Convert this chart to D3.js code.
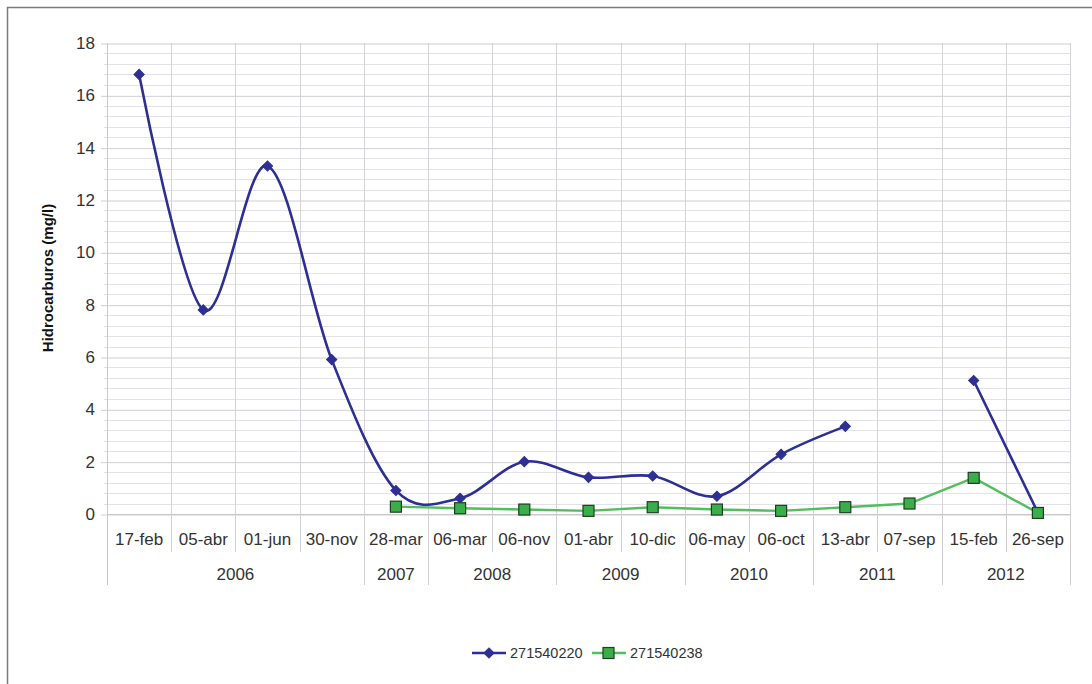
<!DOCTYPE html>
<html>
<head>
<meta charset="utf-8">
<script src="https://cdn.jsdelivr.net/npm/d3@7"></script>
<style>
  html, body { margin: 0; padding: 0; background: #fff; }
  svg { display: block; }
  text { font-family: "Liberation Sans", Arial, sans-serif; fill: #333; }
</style>
</head>
<body>
<svg id="chart" width="1092" height="684"></svg>
<script>
// ---- data ----
const categories = ["17-feb","05-abr","01-jun","30-nov","28-mar","06-mar","06-nov","01-abr","10-dic","06-may","06-oct","13-abr","07-sep","15-feb","26-sep"];
const years      = ["2006","2006","2006","2006","2007","2008","2008","2009","2009","2010","2010","2011","2011","2012","2012"];
const series1Name = "271540220";
const series1 = [16.8, 7.8, 13.3, 5.9, 0.9, 0.6, 2.0, 1.4, 1.45, 0.68, 2.28, 3.35, null, 5.1, 0.05];
const series2Name = "271540238";
const series2 = [null, null, null, null, 0.28, 0.22, 0.17, 0.12, 0.26, 0.17, 0.12, 0.26, 0.4, 1.38, 0.04];
const yTicks = [0, 2, 4, 6, 8, 10, 12, 14, 16, 18];
const yTitle = "Hidrocarburos (mg/l)";

// ---- layout ----
const svg = d3.select("#chart");
const pLeft = 107, pRight = 1070, pTop = 43, pBottom = 514;
const blue = "#2d2f94", green = "#52be5e", greenFill = "#3aae4a";

const x = d3.scaleBand().domain(categories).range([pLeft, pRight]).padding(0);
const y = d3.scaleLinear().domain([0, 18]).range([pBottom, pTop]);

// outer border
svg.append("rect").attr("x", 7.5).attr("y", 7.5).attr("width", 1200).attr("height", 800)
  .attr("fill", "none").attr("stroke", "#7a7a7a").attr("stroke-width", 1.5);

// minor gridlines
const minor = d3.range(0, 18.0001, 0.4).filter(v => Math.abs(v / 2 - Math.round(v / 2)) > 1e-6);
svg.append("g").selectAll("line").data(minor).join("line")
  .attr("x1", pLeft - 3).attr("x2", pRight)
  .attr("y1", d => Math.round(y(d)) + 0.5).attr("y2", d => Math.round(y(d)) + 0.5)
  .attr("stroke", "#e2e2e8").attr("stroke-width", 1);

// vertical gridlines (category boundaries)
const bounds = categories.map(c => x(c)).concat([pRight]);
svg.append("g").selectAll("line").data(bounds).join("line")
  .attr("x1", d => Math.round(d) + 0.5).attr("x2", d => Math.round(d) + 0.5)
  .attr("y1", pTop).attr("y2", pBottom)
  .attr("stroke", "#d4d4d8").attr("stroke-width", 1);

// y axis with major gridlines
const yAxis = svg.append("g").attr("transform", `translate(${pLeft},0)`)
  .call(d3.axisLeft(y).tickValues(yTicks).tickSize(0).tickPadding(12));
yAxis.select(".domain").remove();
yAxis.selectAll(".tick text").style("font-size", "17px").style("font-family", "'Liberation Sans', Arial, sans-serif").attr("fill", "#333");
yAxis.selectAll(".tick").append("line")
  .attr("x1", -6).attr("x2", pRight - pLeft)
  .attr("y1", 0.5).attr("y2", 0.5)
  .attr("stroke", "#cfcfd4").attr("stroke-width", 1);

// axis lines
svg.append("line").attr("x1", pLeft + 0.5).attr("x2", pLeft + 0.5).attr("y1", pTop).attr("y2", 585)
  .attr("stroke", "#c8c8cc");
svg.append("line").attr("x1", pLeft).attr("x2", pRight).attr("y1", pBottom + 0.5).attr("y2", pBottom + 0.5)
  .attr("stroke", "#c8c8cc");

// category separators in label area
const g = svg.append("g");
categories.forEach((c, i) => {
  const bx = x(c);
  if (i > 0) {
    const yearBoundary = years[i] !== years[i - 1];
    g.append("line").attr("x1", Math.round(bx) + 0.5).attr("x2", Math.round(bx) + 0.5)
      .attr("y1", pBottom).attr("y2", yearBoundary ? 585 : 552)
      .attr("stroke", "#d0d0d4");
  }
});
g.append("line").attr("x1", pRight + 0.5).attr("x2", pRight + 0.5).attr("y1", pBottom).attr("y2", 585)
  .attr("stroke", "#d0d0d4");

// category labels
g.selectAll("text.cat").data(categories).join("text").attr("class", "cat")
  .attr("x", d => x(d) + x.bandwidth() / 2).attr("y", 545)
  .attr("text-anchor", "middle").style("font-size", "17px").text(d => d);

// year labels
const yearGroups = d3.groups(categories.map((c, i) => ({ c, yr: years[i] })), d => d.yr);
g.selectAll("text.yr").data(yearGroups).join("text").attr("class", "yr")
  .attr("x", d => (x(d[1][0].c) + x(d[1][d[1].length - 1].c) + x.bandwidth()) / 2)
  .attr("y", 580).attr("text-anchor", "middle").style("font-size", "17px").text(d => d[0]);

// y title
svg.append("text").attr("transform", `translate(53,${278}) rotate(-90)`)
  .attr("text-anchor", "middle").style("font-size", "15px").style("font-weight", "bold")
  .style("fill", "#111").text(yTitle);

// series 1: smoothed
const line1 = d3.line()
  .defined(d => d.v != null)
  .x(d => x(d.c) + x.bandwidth() / 2).y(d => y(d.v))
  .curve(d3.curveCardinal.tension(0));
const d1 = categories.map((c, i) => ({ c, v: series1[i] }));
svg.append("path").datum(d1).attr("d", line1)
  .attr("fill", "none").attr("stroke", blue).attr("stroke-width", 2.6);

// series 2: straight
const line2 = d3.line()
  .defined(d => d.v != null)
  .x(d => x(d.c) + x.bandwidth() / 2).y(d => y(d.v));
const d2 = categories.map((c, i) => ({ c, v: series2[i] }));
svg.append("path").datum(d2).attr("d", line2)
  .attr("fill", "none").attr("stroke", green).attr("stroke-width", 2.4);

// markers series 1 (square diamonds)
const diamondPath = d3.symbol().type(d3.symbolSquare).size(52)();
svg.append("g").selectAll("path").data(d1.filter(d => d.v != null)).join("path")
  .attr("transform", d => `translate(${x(d.c) + x.bandwidth() / 2},${y(d.v)}) rotate(45)`)
  .attr("d", diamondPath)
  .attr("fill", blue).attr("stroke", blue).attr("stroke-width", 1);

// markers series 2 (squares)
svg.append("g").selectAll("rect").data(d2.filter(d => d.v != null)).join("rect")
  .attr("x", d => x(d.c) + x.bandwidth() / 2 - 5.5).attr("y", d => y(d.v) - 5.5)
  .attr("width", 11).attr("height", 11)
  .attr("fill", greenFill).attr("stroke", "#1f3d22").attr("stroke-width", 1.2);

// legend
const lg = svg.append("g");
lg.append("line").attr("x1", 472).attr("x2", 506).attr("y1", 653).attr("y2", 653)
  .attr("stroke", blue).attr("stroke-width", 2.6);
lg.append("path").attr("transform", "translate(489,653) rotate(45)")
  .attr("d", diamondPath).attr("fill", blue).attr("stroke", blue).attr("stroke-width", 1);
lg.append("text").attr("x", 510).attr("y", 658).style("font-size", "14.5px").text(series1Name);
lg.append("line").attr("x1", 592).attr("x2", 626).attr("y1", 653).attr("y2", 653)
  .attr("stroke", green).attr("stroke-width", 2.4);
lg.append("rect").attr("x", 603).attr("y", 647.5).attr("width", 11).attr("height", 11)
  .attr("fill", greenFill).attr("stroke", "#1f3d22").attr("stroke-width", 1.2);
lg.append("text").attr("x", 630).attr("y", 658).style("font-size", "14.5px").text(series2Name);
</script>
</body>
</html>
